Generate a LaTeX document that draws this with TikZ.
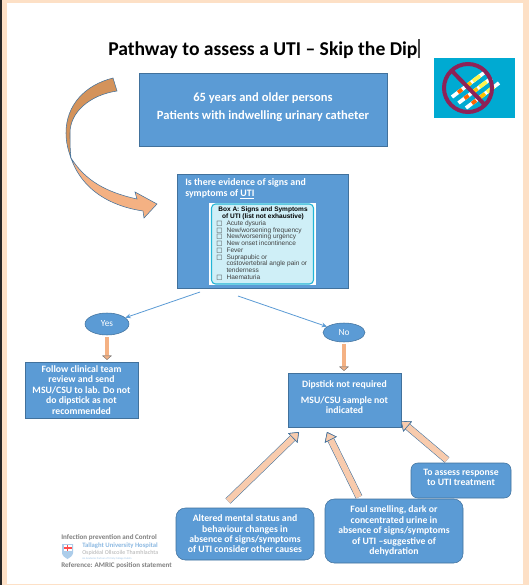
\documentclass[tikz,border=0pt]{standalone}
\usepackage{fontspec}
\usepackage{xcolor}
\usepackage{array}
\setmainfont{Carlito}
\newfontfamily\arialfont{Liberation Sans}
\newfontfamily\symfont{DejaVu Sans}
\newcommand{\tickbox}{\smash{\symfont □}}
\usetikzlibrary{shapes.geometric, arrows.meta}

\definecolor{boxblue}{HTML}{5B9BD5}
\definecolor{boxedge}{HTML}{41719C}
\definecolor{peach}{HTML}{F4B183}
\definecolor{pale}{HTML}{F8CBAD}
\definecolor{framepeach}{HTML}{FDE0C6}
\definecolor{cyanedge}{HTML}{22B5D6}
\definecolor{cyanfill}{HTML}{CFEFF7}
\definecolor{iconteal}{HTML}{00AAD2}
\definecolor{banred}{HTML}{8E2257}

\begin{document}
\begin{tikzpicture}[x=0.75pt, y=-0.75pt]
        % Define block styles
        \tikzstyle{block} = [rectangle, draw=boxedge, fill=boxblue, text=white, align=center, inner sep=1pt,
                             font=\bfseries\fontsize{7.3}{7.8}\selectfont]
        \tikzstyle{roundblock} = [block, rounded corners=7pt]
        \tikzstyle{answer} = [ellipse, draw=boxedge, fill=boxblue, text=white, inner sep=0pt, font=\fontsize{7}{8}\selectfont]
        \tikzstyle{arrow} = [draw=boxblue, semithick, -{Stealth[length=4pt, width=3.5pt]}]
        \tikzstyle{fatarrow} = [draw=pale, line width=4.6pt, preaction={draw=boxedge, line width=5.4pt},
                                -{Triangle[length=6.5pt, width=10pt, color=boxedge, fill=pale, line width=0.45pt]}]
        \tikzstyle{downarrow} = [draw=peach, line width=2.4pt, preaction={draw=gray, line width=3pt},
                                 -{Triangle[length=3pt, width=7pt, color=gray, fill=peach, line width=0.3pt]},
                                 shorten <=1.5pt, shorten >=1.5pt]
        \tikzstyle{footer} = [anchor=west, inner sep=0pt, text=gray, font=\bfseries\fontsize{5.3}{6}\selectfont]

        \useasboundingbox (0,0) rectangle (529,585);

        % Page frame
        \fill[framepeach] (0,0) rectangle (529,585);
        \fill[black!85] (0,0) rectangle (2,585);
        \fill[white] (7,3) rectangle (523,584);

        % Title
        \node (title) [inner sep=0pt, anchor=west, font=\bfseries\fontsize{14.7}{16}\selectfont] at (108,50) {Pathway to assess a UTI – Skip the Dip};
        \draw[black!70, thick] (419,39) -- (419,58);

        % Curved arrow
        \filldraw[fill=brown!60!peach, draw=boxedge, thin] (113,78) .. controls (85,85) and (66,105) .. (66,133) .. controls (66,142) and (68,150) .. (71,158)
            .. controls (70,150) and (70,140) .. (70,133) .. controls (70,112) and (90,95) .. (117,91) -- cycle;
        \filldraw[fill=peach, draw=boxedge, thin] (71,158) .. controls (82,190) and (110,206) .. (143,211) -- (144,218) -- (157,204) -- (135,192) -- (137,199)
            .. controls (105,192) and (85,180) .. (71,158) -- cycle;

        % Dipstick icon
        \fill[iconteal] (434,58) rectangle (515,118);
        \foreach \sx/\sy in {452/97, 458.5/103, 466/108} {
            \begin{scope}[shift={(\sx,\sy)}]
                \draw[white, line width=2.8pt] (0,0) -- (33,-25);
                \draw[orange!80!red, line width=2.8pt] (6,-4.5) -- (10,-7.5);
                \draw[orange!50!yellow, line width=2.8pt] (14,-10.5) -- (19,-14.4);
                \draw[yellow!70, line width=2.8pt] (21,-16) -- (28,-21.2);
            \end{scope}
        }
        \draw[banred, line width=3pt] (468,88) circle (24);
        \draw[banred, line width=3pt] (452,71) -- (485,105);

        % Blocks
        \node (patients) [block, font=\bfseries\fontsize{9.4}{9.3}\selectfont, minimum width=186pt, minimum height=54.75pt] at (263,109.5) {65 years and older persons\\[4.2pt]Patients with indwelling urinary catheter\\[-4.5pt]\mbox{}};
        \node (question) [block, minimum width=128.25pt, minimum height=85.5pt] at (262.5,231) {};
        \node (questiontext) [text=white, anchor=north west, inner sep=0pt, align=left, font=\bfseries\fontsize{7.4}{8.3}\selectfont] at (185,178) {Is there evidence of signs and\\symptoms of \underline{UTI}};
        \node (boxback) [fill=white, minimum width=80.25pt, minimum height=61.5pt, inner sep=0pt] at (262.5,244) {};
        \node (boxa) [rectangle, rounded corners=3pt, draw=cyanedge, line width=0.8pt, fill=cyanfill, minimum width=76.5pt, minimum height=60pt, inner sep=0pt] at (262.5,244) {};
        \node (boxatitle) [inner sep=0pt, align=center, font=\arialfont\bfseries\fontsize{4.9}{5.4}\selectfont] at (263,213) {Box A: Signs and Symptoms\\of UTI (list not exhaustive)};
        \node (boxalist) [inner sep=0pt, anchor=north west, text=black!75, font=\arialfont\fontsize{4.9}{5.4}\selectfont] at (216,220.5) {%
            \renewcommand{\arraystretch}{0.93}\setlength{\tabcolsep}{0pt}%
            \begin{tabular}{@{}p{7.7pt}@{}l@{}}
                \tickbox & Acute dysuria\\
                \tickbox & New/worsening frequency\\
                \tickbox & New/worsening urgency\\
                \tickbox & New onset incontinence\\
                \tickbox & Fever\\
                \tickbox & Suprapubic or\\
                & costovertebral angle pain or\\
                & tenderness\\
                \tickbox & Haematuria
            \end{tabular}};
        \node (yes) [answer, minimum width=33pt, minimum height=16.5pt] at (107,324) {Yes};
        \node (no) [answer, minimum width=31.5pt, minimum height=14.25pt] at (344,332.5) {No};
        \node (follow) [block, minimum width=84.75pt, minimum height=42pt] at (81.5,390) {Follow clinical team\\review and send\\MSU/CSU to lab. Do not\\do dipstick as not\\recommended};
        \node (dipstick) [block, minimum width=84.75pt, minimum height=40.5pt] at (344.5,400) {Dipstick not required\\[4.2pt]MSU/CSU sample not\\indicated\\[-3pt]\mbox{}};
        \node (altered) [roundblock, minimum width=103.5pt, minimum height=39pt] at (245,534) {Altered mental status and\\behaviour changes in\\absence of signs/symptoms\\of UTI consider other causes};
        \node (foul) [roundblock, minimum width=103.5pt, minimum height=48pt] at (394,531) {Foul smelling, dark or\\concentrated urine in\\absence of signs/symptoms\\of UTI –suggestive of\\dehydration};
        \node (assess) [roundblock, rounded corners=5pt, minimum width=75pt, minimum height=26.25pt] at (461,480.5) {To assess response\\to UTI treatment\\[-3pt]\mbox{}};

        % Free ends of the connectors
        \coordinate (yesstart) at (200,292);
        \coordinate (nostart) at (238,296);
        \coordinate (alteredtail) at (228,501);
        \coordinate (alteredtip) at (299,432);
        \coordinate (foultail) at (359,497);
        \coordinate (foultip) at (327,432);
        \coordinate (assesstail) at (447,460);
        \coordinate (assesstip) at (401,421);

        % Arrows
        \draw [arrow] (yesstart) -- (yes);
        \draw [arrow] (nostart) -- (no);
        \draw [downarrow] (yes.south) -- (yes.south |- follow.north);
        \draw [downarrow] (no.south) -- (no.south |- dipstick.north);
        \draw [fatarrow] (alteredtail) -- (alteredtip);
        \draw [fatarrow] (foultail) -- (foultip);
        \draw [fatarrow] (assesstail) -- (assesstip);

        % Hospital footer
        \node (infection) [footer] at (61,538) {Infection prevention and Control};
        \node (reference) [footer] at (61,565.5) {Reference: AMRIC position statement};
        \node (hospital) [footer, text=boxblue!70, font=\bfseries\fontsize{5}{5.5}\selectfont] at (82,546) {Tallaght University Hospital};
        \node (hospitalga) [footer, text=black!30, font=\fontsize{4.5}{5}\selectfont] at (82,553) {Ospidéal Ollscoile Thamhlachta};
        \node (partner) [footer, text=boxblue!60, font=\fontsize{2}{2.4}\selectfont] at (82,558.5) {An Academic Partner of Trinity College Dublin};
        \fill[boxblue!50] (62,544) -- (73,544) -- (73,553) .. controls (73,556) and (69,558) .. (67.5,559) .. controls (66,558) and (62,556) .. (62,553) -- cycle;
        \fill[white] (63.5,545) rectangle (71.5,551);
        \fill[red!70] (66.8,545) rectangle (68.2,551);
        \fill[red!70] (63.5,547.3) rectangle (71.5,548.5);
    \end{tikzpicture}
\end{document}
